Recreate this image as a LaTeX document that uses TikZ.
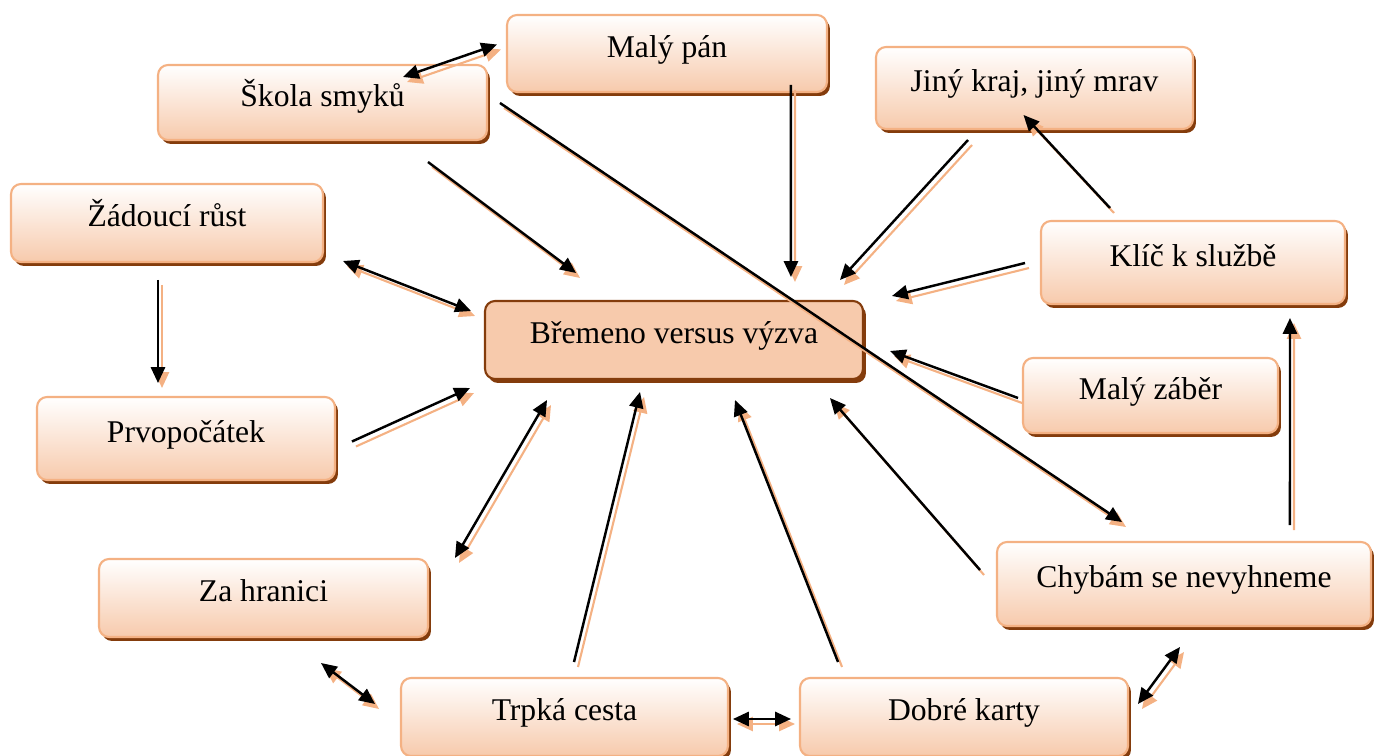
\documentclass[tikz,border=0pt]{standalone}
\usepackage{fontspec}
\setmainfont{Liberation Serif}
\usepackage{tikz}
\usetikzlibrary{arrows.meta}
\usetikzlibrary{shadows}
\definecolor{peachline}{HTML}{F4B183}
\definecolor{peachfill}{HTML}{F7CAAC}
\definecolor{rust}{HTML}{843C0C}
\tikzset{box/.style = {rectangle, rounded corners = 0.2cm, draw = peachline, line width = 1.2pt,
                       top color = white, bottom color = peachfill, inner sep = 0, outer sep = 0,
                       text height = 0.75em, text depth = 0.35em,
                       font = \fontsize{18}{20}\selectfont,
                       general shadow = {fill = rust, shadow xshift = 0.06cm, shadow yshift = -0.08cm}}}
\tikzset{mainbox/.style = {box, draw = rust, fill = peachfill, top color = peachfill, bottom color = peachfill}}
\tikzset{link/.style = {line width = 1.4pt, -{Triangle[length = 9pt, width = 8pt]},
                        preaction = {draw = peachline, line width = 1.2pt,
                                     transform canvas = {shift = {(4, 5)}}}}}
\tikzset{link2/.style = {link, {Triangle[length = 9pt, width = 8pt]}-{Triangle[length = 9pt, width = 8pt]}}}
\begin{document}
\begin{tikzpicture}[x = 0.02cm, y = -0.02cm]
    \useasboundingbox (0, 0) rectangle (1376, 756);

    \node [box, minimum width = 6.4cm, minimum height = 1.54cm] (pan) at (667, 53.5) {Malý pán};
    \node [box, minimum width = 6.58cm, minimum height = 1.5cm] (skola) at (322.5, 102.5) {Škola smyků};
    \node [box, minimum width = 6.34cm, minimum height = 1.64cm] (jiny) at (1034.5, 88) {Jiný kraj, jiný mrav};
    \node [box, minimum width = 6.24cm, minimum height = 1.56cm] (rust) at (167, 223) {Žádoucí růst};
    \node [box, minimum width = 6.08cm, minimum height = 1.66cm] (klic) at (1193, 262.5) {Klíč k službě};
    \node [mainbox, minimum width = 7.56cm, minimum height = 1.56cm] (bremeno) at (674, 340) {Břemeno versus výzva};
    \node [box, minimum width = 5.1cm, minimum height = 1.5cm] (zaber) at (1150.5, 395.5) {Malý záběr};
    \node [box, minimum width = 5.96cm, minimum height = 1.66cm] (prvo) at (186, 438.5) {Prvopočátek};
    \node [box, minimum width = 7.48cm, minimum height = 1.68cm] (chyby) at (1184, 584) {Chybám se nevyhneme};
    \node [box, minimum width = 6.58cm, minimum height = 1.56cm] (hranice) at (263.5, 598) {Za hranici};
    \node [box, minimum width = 6.54cm, minimum height = 1.56cm] (trpka) at (564.5, 717) {Trpká cesta};
    \node [box, minimum width = 6.56cm, minimum height = 1.56cm] (karty) at (964, 717) {Dobré karty};

    \draw [link2] ([shift = {(-84, 12)}] skola.north east) -- ([shift = {(-10, -9)}] pan.west);
    \draw [link] ([shift = {(-36, -7)}] pan.south east) -- ([shift = {(-72, -24)}] bremeno.north east);
    \draw [link] ([shift = {(105.5, 22)}] skola.south) -- ([shift = {(91, -28)}] bremeno.north west);
    \draw [link] ([shift = {(13, 0.5)}] skola.east) -- ([shift = {(-62, -20)}] chyby.north);
    \draw [link] ([shift = {(-66.5, 11)}] jiny.south) -- ([shift = {(-23, -21)}] bremeno.north east);
    \draw [link] ([shift = {(-83, -13)}] klic.north) -- ([shift = {(-11, -14)}] jiny.south);
    \draw [link] ([shift = {(-16, 0.5)}] klic.west) -- ([shift = {(29, -5)}] bremeno.north east);
    \draw [link] ([shift = {(-5, 2.5)}] zaber.west) -- ([shift = {(27, 11)}] bremeno.east);
    \draw [link] ([shift = {(-81, -17)}] chyby.north east) -- ([shift = {(-55, 14)}] klic.south east);
    \draw [link] ([shift = {(-17, -14)}] chyby.west) -- ([shift = {(-33, 19)}] bremeno.south east);
    \draw [link] ([shift = {(38, -16)}] karty.north west) -- ([shift = {(61, 21)}] bremeno.south);
    \draw [link] ([shift = {(9.5, -16)}] trpka.north) -- ([shift = {(-34, 13)}] bremeno.south);
    \draw [link2] ([shift = {(27, -1)}] hranice.north east) -- ([shift = {(62, 21)}] bremeno.south west);
    \draw [link] ([shift = {(17, 3)}] prvo.east) -- ([shift = {(-15, 9)}] bremeno.south west);
    \draw [link2] ([shift = {(20, -1)}] rust.south east) -- ([shift = {(-14, 10)}] bremeno.north west);
    \draw [link] ([shift = {(-9, 18)}] rust.south) -- ([shift = {(-28, -14)}] prvo.north);
    \draw [link2] ([shift = {(57.5, 26)}] hranice.south) -- ([shift = {(-26, -13)}] trpka.west);
    \draw [link2] ([shift = {(5, 2)}] trpka.east) -- ([shift = {(-9, 2)}] karty.west);
    \draw [link2] ([shift = {(10, -13)}] karty.east) -- ([shift = {(-4, 21)}] chyby.south);
  \end{tikzpicture}
\end{document}
